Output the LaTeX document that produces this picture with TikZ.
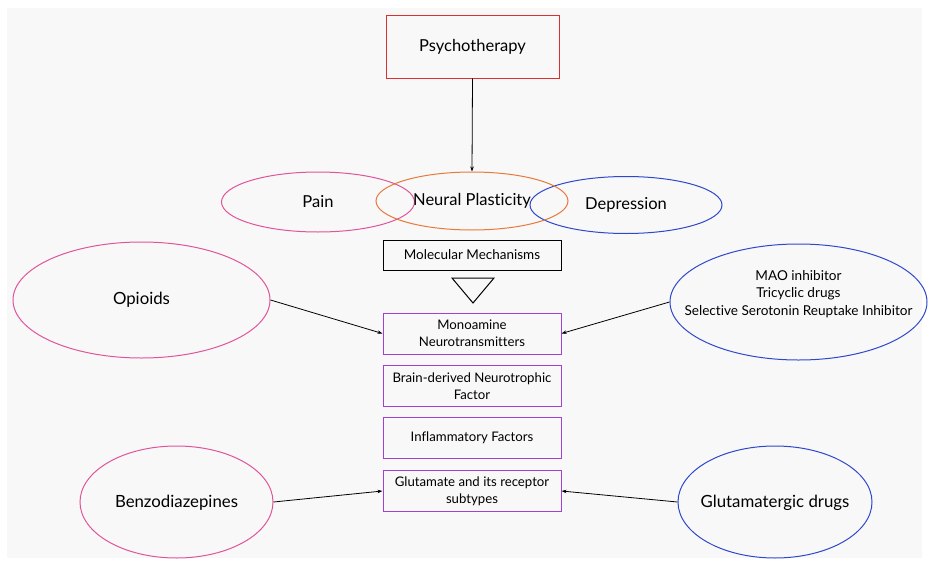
\documentclass[tikz,border=0pt]{standalone}
\usepackage{fontspec}
\setmainfont{Lato}[Ligatures=NoCommon]
\usetikzlibrary{shapes.geometric,arrows.meta}
\definecolor{bg}{HTML}{F8F8F8}
\definecolor{cred}{HTML}{D93030}
\definecolor{cpink}{HTML}{E05599}
\definecolor{corange}{HTML}{E8793A}
\definecolor{cblue}{HTML}{2E48CC}
\definecolor{cpurple}{HTML}{A43FD4}
\tikzset{
  ell/.style={ellipse, draw, line width=1pt, inner sep=0pt},
  lbl/.style={align=center, inner sep=0pt, font=\fontsize{16.5}{19}\selectfont},
  pbox/.style={rectangle, draw=cpurple, line width=1pt, minimum width=178pt, minimum height=41pt, inner sep=1pt, align=center, font=\fontsize{13.2}{17}\selectfont},
  arr/.style={-{Stealth[length=5pt,width=3.5pt]}, line width=0.8pt, black},
}
\begin{document}
\begin{tikzpicture}[x=1pt,y=-1pt]
\useasboundingbox (0,0) rectangle (929,562);
\fill[white] (0,0) rectangle (929,562);
\fill[bg] (7,8) rectangle (922,558);

\node[rectangle, draw=cred, line width=1pt, minimum width=173pt, minimum height=63pt, font=\fontsize{16.5}{19}\selectfont] (psy) at (472.5,46.5) {Psychotherapy};

\node[ell, draw=cpink, minimum width=193pt, minimum height=60pt] (pain) at (318,202) {};
\node[lbl] (painl) at (318,202) {Pain};
\node[ell, draw=cblue, minimum width=192pt, minimum height=57pt] (dep) at (626,205) {};
\node[lbl] (depl) at (626,205) {Depression};
\node[ell, draw=corange, minimum width=192pt, minimum height=58pt] (np) at (472,201) {};
\node[lbl] (npl) at (472,201) {Neural Plasticity};

\draw[arr] (psy.south) -- (np.north);

\node[rectangle, draw=black, line width=1pt, minimum width=178pt, minimum height=30pt, font=\fontsize{13.5}{16}\selectfont] (mol) at (472,255) {Molecular Mechanisms};

\coordinate (tl) at (452,278);
\coordinate (tr) at (494,278);
\coordinate (tb) at (473,303);
\draw[line width=1pt] (tl) -- (tr) -- (tb) -- cycle;

\node[pbox] (mono) at (472,333.5) {Monoamine\\Neurotransmitters};
\node[pbox] (bdnf) at (472,386) {Brain-derived Neurotrophic\\Factor};
\node[pbox] (infl) at (472,438) {Inflammatory Factors};
\node[pbox] (glu) at (472,491) {Glutamate and its receptor\\subtypes};

\node[ell, draw=cpink, minimum width=257pt, minimum height=116pt] (opi) at (141.5,300) {};
\node[lbl, font=\fontsize{16.8}{19}\selectfont] (opil) at (141.5,300) {Opioids};
\node[ell, draw=cblue, minimum width=257pt, minimum height=116pt] (mao) at (798.5,302) {};
\node[lbl, font=\fontsize{13.6}{17.5}\selectfont] (maol) at (798.5,294) {MAO inhibitor\\Tricyclic drugs\\Selective Serotonin Reuptake Inhibitor};
\node[ell, draw=cpink, minimum width=193pt, minimum height=112pt] (benz) at (176.5,502) {};
\node[lbl, font=\fontsize{16.8}{19}\selectfont] (benzl) at (176.5,503) {Benzodiazepines};
\node[ell, draw=cblue, minimum width=194pt, minimum height=112pt] (gd) at (775,502) {};
\node[lbl, font=\fontsize{16.8}{19}\selectfont] (gdl) at (775,503) {Glutamatergic drugs};

\draw[arr] (opi.east) -- (mono.west);
\draw[arr] (mao.west) -- (mono.east);
\draw[arr] (benz.east) -- (glu.west);
\draw[arr] (gd.west) -- (glu.east);
\end{tikzpicture}
\end{document}
